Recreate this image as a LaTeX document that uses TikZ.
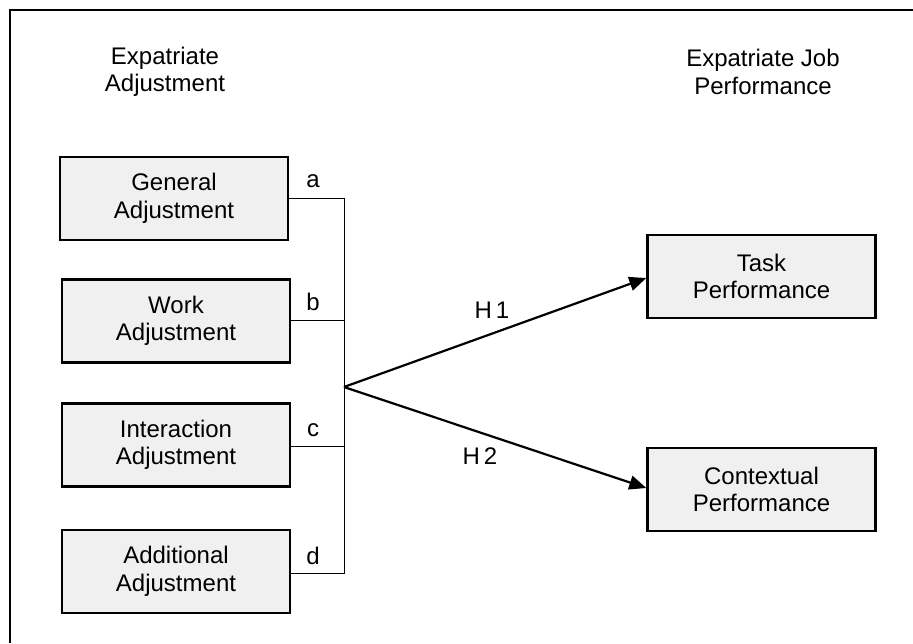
\documentclass[tikz,border=0pt]{standalone}
\usepackage{fontspec}
\setmainfont{Liberation Sans}
\usetikzlibrary{arrows.meta}
\begin{document}
\begin{tikzpicture}[x=1pt,y=-1pt,
  every node/.style={font=\fontsize{24}{27.5}\selectfont, text=black},
  boxnode/.style={draw=black, line width=2.4pt, fill=black!6, align=center, inner sep=0pt, minimum width=228pt, minimum height=83pt},
  rbox/.style={boxnode, minimum width=228pt},
  title/.style={align=center},
  lab/.style={inner sep=0pt},
  conn/.style={draw=black, line width=1pt},
  arr/.style={draw=black, line width=2.2pt, -{Triangle[length=17pt,width=14pt]}}
]
\useasboundingbox (0,0) rectangle (913,643);
\draw[line width=2.4pt] (10,643) -- (10,10) -- (913,10);

\node[title] (t1) at (165,72) {Expatriate\\Adjustment};
\node[title] (t2) at (763,72) {Expatriate Job\\Performance};

\node[boxnode] (g) at (174,198.5) {General\\Adjustment};
\node[boxnode] (w) at (176,321) {Work\\Adjustment};
\node[boxnode] (i) at (176,445) {Interaction\\Adjustment};
\node[boxnode] (ad) at (176,571.5) {Additional\\Adjustment};

\node[rbox] (tp) at (761.5,276.5) {Task\\Performance};
\node[rbox] (cp) at (761.5,489.5) {Contextual\\Performance};

\coordinate (ga) at (344,198);
\coordinate (wb) at (344,320);
\coordinate (ic) at (344,446);
\coordinate (dd) at (344,573);
\coordinate (hub) at (344,387);

\draw[conn] (g.east |- ga) -- (ga);
\draw[conn] (w.east |- wb) -- (wb);
\draw[conn] (i.east |- ic) -- (ic);
\draw[conn] (ad.east |- dd) -- (dd) -- (ga);

\node[lab] (la) at (313,181) {a};
\node[lab] (lb) at (313,302) {b};
\node[lab] (lc) at (313,430) {c};
\node[lab] (ld) at (313,556) {d};

\draw[arr] (hub) -- (tp.west |- 0,278);
\draw[arr] (hub) -- (cp.west |- 0,488);

\node[lab] (h1) at (492,310) {H\,1};
\node[lab] (h2) at (480,456) {H\,2};
\end{tikzpicture}
\end{document}
